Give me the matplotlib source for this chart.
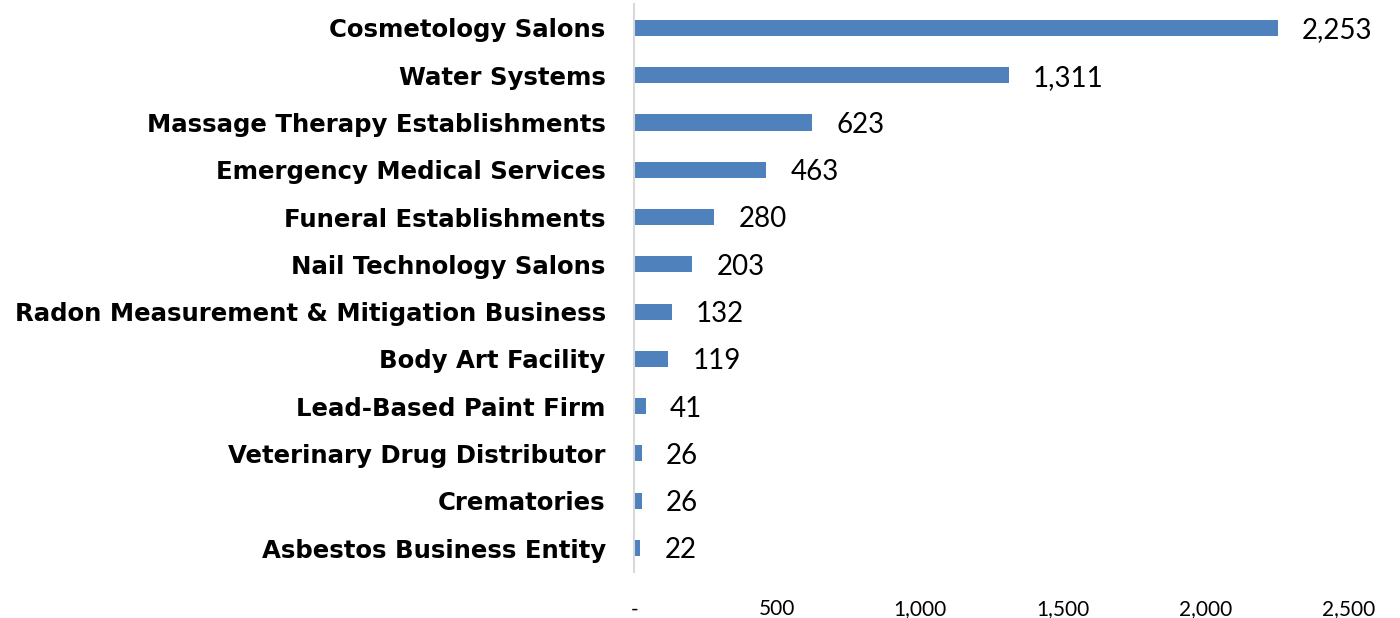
import matplotlib.pyplot as plt
import matplotlib.ticker as mticker

categorias = ['Cosmetology Salons', 'Water Systems', 'Massage Therapy Establishments',
              'Emergency Medical Services', 'Funeral Establishments', 'Nail Technology Salons',
              'Radon Measurement & Mitigation Business', 'Body Art Facility',
              'Lead-Based Paint Firm', 'Veterinary Drug Distributor', 'Crematories',
              'Asbestos Business Entity']
valores = [2253, 1311, 623, 463, 280, 203, 132, 119, 41, 26, 26, 22]
ticks_x = [0, 500, 1000, 1500, 2000, 2500]

fig = plt.figure(figsize=(14, 6.18), dpi=100)
ax = fig.add_axes([0.453, 0.075, 0.51, 0.918])

pos = list(range(len(categorias)))
ax.barh(pos, valores, height=0.34, color='#4F81BD')
ax.set_ylim(len(categorias) - 0.5, -0.5)
ax.set_xlim(0, 2500)

ax.set_yticks(pos)
ax.set_yticklabels(categorias, fontsize=17.6, fontweight='bold', family='DejaVu Sans')
ax.set_xticks(ticks_x)
ax.xaxis.set_major_formatter(mticker.FuncFormatter(lambda v, p: '-' if v == 0 else f'{int(v):,}'))
for t in ax.get_xticklabels():
    t.set_fontsize(15)
    t.set_family('Lato')
ax.tick_params(axis='both', length=0)
ax.tick_params(axis='y', pad=20.5)
ax.tick_params(axis='x', pad=20)

for s in ['top', 'right', 'bottom']:
    ax.spines[s].set_visible(False)
ax.spines['left'].set_color('#D9D9D9')
ax.spines['left'].set_linewidth(1.5)

for p, v in zip(pos, valores):
    ax.text(v + 85, p + 0.05, f'{v:,}', va='center', ha='left', fontsize=20,
            family='Lato')

fig.savefig('out.png', dpi=100)
